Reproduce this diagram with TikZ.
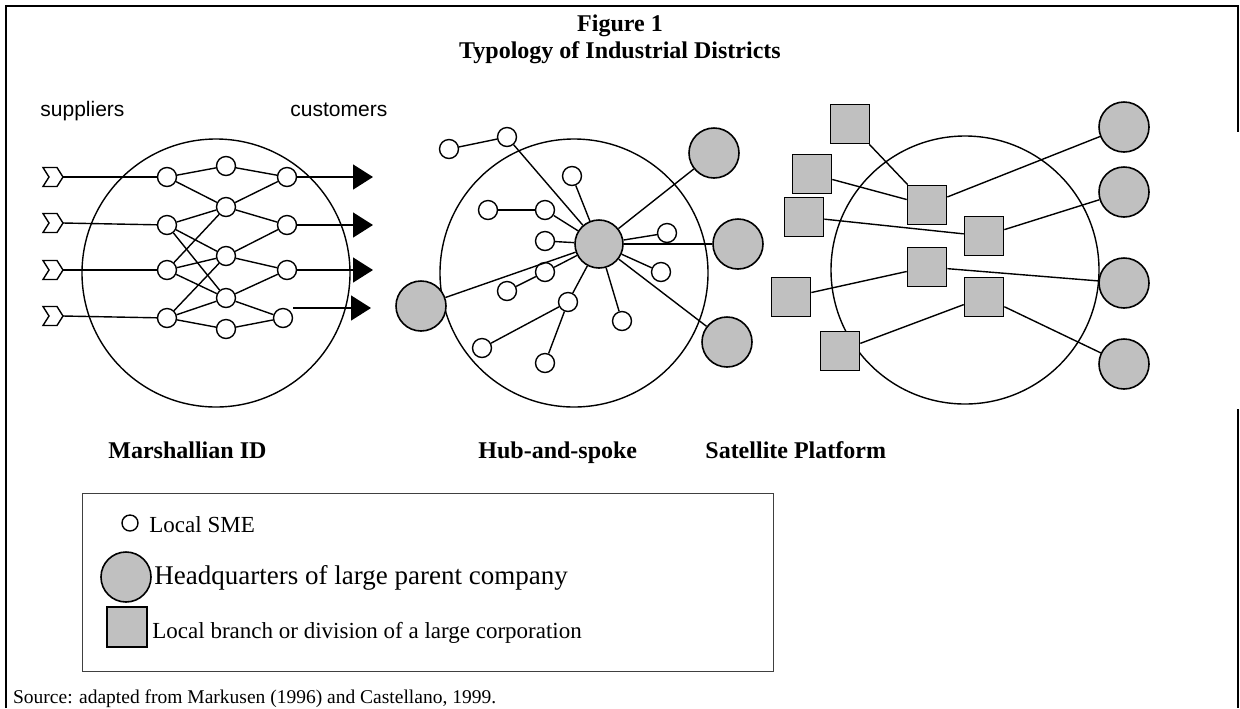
\documentclass[tikz,border=0pt]{standalone}
\usepackage{fontspec}
\setmainfont{Liberation Serif}
\newfontfamily\arialfont{Liberation Sans}
\usetikzlibrary{arrows.meta}
\definecolor{hqgray}{HTML}{C0C0C0}
\begin{document}
\begin{tikzpicture}[x=0.5pt,y=-0.5pt,
  ln/.style={line width=0.7pt},
  sme/.style={circle,draw,line width=0.7pt,fill=white,minimum size=9.5pt,inner sep=0pt},
  hq/.style={circle,draw,line width=0.8pt,fill=hqgray,minimum size=25pt,inner sep=0pt},
  hubnode/.style={circle,draw,line width=0.8pt,fill=hqgray,minimum size=24pt,inner sep=0pt},
  br/.style={rectangle,draw,line width=0.8pt,fill=hqgray,minimum size=19.5pt,inner sep=0pt},
  district/.style={circle,draw,line width=0.7pt,minimum size=134pt,inner sep=0pt},
  chev/.style={line width=0.7pt,line join=miter},
  arr/.style={line width=0.7pt,-{Triangle[length=10pt,width=12.5pt]}},
  lbl/.style={font=\fontsize{12}{14}\selectfont\bfseries,anchor=base west,inner sep=0pt},
  sans/.style={font=\arialfont\fontsize{10.5}{12}\selectfont,anchor=base west,inner sep=0pt},
  legtext/.style={font=\fontsize{11.5}{13}\selectfont,anchor=base west,inner sep=0pt}
]
\useasboundingbox (0,0) rectangle (1240,708);
% frame
\draw[line width=1pt] (6,708) -- (6,6) -- (1238,6) -- (1238,132);
\draw[line width=1pt] (1238,409) -- (1238,708);
% title
\node[font=\fontsize{12}{14}\selectfont\bfseries,anchor=base,inner sep=0pt] (t1) at (620,31) {Figure 1};
\node[font=\fontsize{12}{14}\selectfont\bfseries,anchor=base,inner sep=0pt] (t2) at (620,58) {Typology of Industrial Districts};

% ---------------- Marshallian ID
\node[sans] (sup) at (40,116) {suppliers};
\node[sans] (cus) at (290,116) {customers};
\node[district] (MD) at (216,273) {};
\foreach \i/\y in {1/177,2/223,3/270,4/316}{
  \draw[chev,fill=white] (43,\y-9.5) -- (57,\y-9.5) -- (63,\y) -- (57,\y+9.5) -- (43,\y+9.5) -- (49,\y) -- cycle;
  \coordinate (c\i) at (63,\y);
}
\node[sme] (L1) at (167,177) {};
\node[sme] (L2) at (167,225) {};
\node[sme] (L3) at (167,270) {};
\node[sme] (L4) at (167,318) {};
\node[sme] (M1) at (226,166) {};
\node[sme] (M2) at (226,207) {};
\node[sme] (M3) at (226,256) {};
\node[sme] (M4) at (226,298) {};
\node[sme] (M5) at (226,329) {};
\node[sme] (R1) at (287,177) {};
\node[sme] (R2) at (287,225) {};
\node[sme] (R3) at (287,270) {};
\node[sme] (R4) at (283,318) {};
\coordinate (a1) at (373,177);
\coordinate (a2) at (373,225);
\coordinate (a3) at (373,270);
\coordinate (a4) at (371,308);
\foreach \i in {1,...,4}{ \draw[ln] (c\i) -- (L\i); }
\foreach \a/\b in {L1/M1,L1/M2,L2/M2,L2/M3,L2/M4,L3/M2,L3/M3,L3/M4,L4/M3,L4/M4,L4/M5,
                   M1/R1,M2/R1,M2/R2,M3/R2,M3/R3,M4/R3,M4/R4,M5/R4}{
  \draw[ln] (\a) -- (\b);
}
\draw[arr] (R1) -- (a1);
\draw[arr] (R2) -- (a2);
\draw[arr] (R3) -- (a3);
\draw[arr] (R4.east |- a4) -- (a4);

% ---------------- Hub-and-spoke
\node[district] (HD) at (574,273) {};
\node[hubnode] (hub) at (599,244) {};
\node[hq] (Htr) at (714,153) {};
\node[hq] (Hr) at (738,244) {};
\node[hq] (Hbr) at (727,342) {};
\node[hq] (Hl) at (421,306) {};
\node[sme] (sa) at (449,149) {};
\node[sme] (sb) at (507,137) {};
\node[sme] (sc) at (572,176) {};
\node[sme] (sd) at (488,210) {};
\node[sme] (se) at (545,210) {};
\node[sme] (sf) at (545,241) {};
\node[sme] (sg) at (667,233) {};
\node[sme] (sh) at (545,272) {};
\node[sme] (si) at (507,291) {};
\node[sme] (sj) at (661,272) {};
\node[sme] (sk) at (568,302) {};
\node[sme] (sl) at (622,321) {};
\node[sme] (sm) at (482,348) {};
\node[sme] (sn) at (545,363) {};
\foreach \a/\b in {sa/sb,sb/hub,sc/hub,sd/se,se/hub,sf/hub,hub/sg,hub/Hr,hub/Htr,hub/sj,hub/sl,hub/Hbr,hub/sk,sk/sm,sk/sn,hub/sh,sh/si,hub/Hl}{
  \draw[ln] (\a) -- (\b);
}

% ---------------- Satellite Platform
\node[district] (SD) at (965,270) {};
\node[br] (S1) at (850,124) {};
\node[br] (S2) at (812,174) {};
\node[br] (S3) at (804,217) {};
\node[br] (S4) at (791,297) {};
\node[br] (S5) at (840,351) {};
\node[br] (T1) at (927,205) {};
\node[br] (T2) at (984,236) {};
\node[br] (T3) at (927,267) {};
\node[br] (T4) at (984,297) {};
\node[hq] (H1) at (1124,127) {};
\node[hq] (H2) at (1124,192) {};
\node[hq] (H3) at (1124,283) {};
\node[hq] (H4) at (1124,364) {};
\foreach \a/\b in {S1/T1,S2/T1,S3/T2,S4/T3,S5/T4,T1/H1,T2/H2,T3/H3,T4/H4}{
  \draw[ln] (\a) -- (\b);
}

% ---------------- labels
\node[lbl] (lm) at (108,458) {Marshallian ID};
\node[lbl] (lh) at (478,458) {Hub-and-spoke};
\node[lbl] (ls) at (705,458) {Satellite Platform};

% ---------------- legend
\node[draw=black!75,line width=0.5pt,minimum width=345.5pt,minimum height=89pt,inner sep=0pt] (leg) at (427.5,582) {};
\node[sme,minimum size=8pt] (lg1) at (130,523) {};
\node[legtext] (lt1) at (149,532) {Local SME};
\node[hq] (lg2) at (126,577) {};
\node[legtext,font=\fontsize{13.5}{15}\selectfont] (lt2) at (154,584) {Headquarters of large parent company};
\node[br,minimum size=20pt] (lg3) at (127,627) {};
\node[legtext] (lt3) at (152,638) {Local branch or division of a large corporation};

% source
\node[font=\fontsize{9.75}{11}\selectfont,anchor=base west,inner sep=0pt] (src) at (12.7,703) {Source: adapted from Markusen (1996) and Castellano, 1999.};
\end{tikzpicture}
\end{document}
